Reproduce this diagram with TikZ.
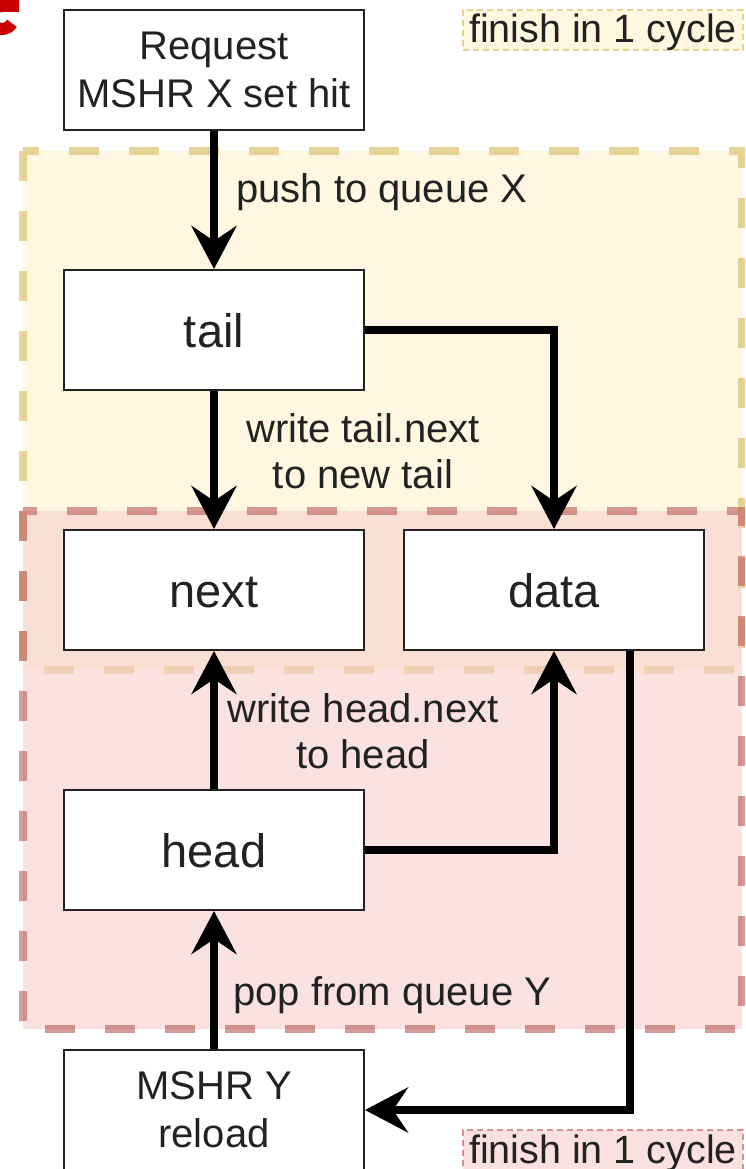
\documentclass[tikz,border=0pt]{standalone}
\usepackage{fontspec}
\setmainfont{Liberation Sans}
\usetikzlibrary{arrows.meta,calc}
\definecolor{ylwfill}{HTML}{FFF2CC}
\definecolor{ylwline}{HTML}{D6B656}
\definecolor{redfill}{HTML}{F8CECC}
\definecolor{redline}{HTML}{B85450}
\definecolor{ink}{HTML}{222222}
\definecolor{cornerred}{HTML}{C80000}
\tikzset{
  stage/.style={line width=8pt, dash pattern=on 30pt off 30pt, opacity=0.58},
  unit/.style={draw=ink, line width=2pt, fill=white, minimum width=300pt,
               minimum height=120pt, inner sep=0pt, text=ink, align=center},
  small/.style={font=\fontsize{40}{48}\selectfont},
  big/.style={font=\fontsize{47}{54}\selectfont, text height=34pt, text depth=0pt},
  lbl/.style={text=ink, inner sep=0pt, align=center, font=\fontsize{40}{46}\selectfont},
  flow/.style={line width=8pt, -{Stealth[length=43pt,width=45pt,inset=15pt]}},
  note/.style={line width=1.5pt, dash pattern=on 6pt off 4pt, minimum width=280pt,
               minimum height=40pt, inner sep=0pt, text=ink,
               text height=33pt, text depth=7pt,
               fill opacity=0.6, draw opacity=0.6, text opacity=1,
               font=\fontsize{39.5}{46}\selectfont}
}
\begin{document}
\begin{tikzpicture}[x=1pt,y=-1pt]
\clip (0,0) rectangle (745,1169);
\fill[white] (0,0) rectangle (745,1169);

% pipeline stages
\draw[stage, draw=ylwline, fill=ylwfill] (23,151) rectangle (742,670);
\draw[stage, draw=redline, fill=redfill] (23,511) rectangle (742,1029);

% red mark in the corner
\draw[cornerred, line width=12pt] (19,6) -- (2,6)
  arc[start angle=270, end angle=30, radius=11.5];

% cycle notes
\node[note, draw=ylwline, fill=ylwfill] (n1) at (603,30)   {finish in 1 cycle};
\node[note, draw=redline, fill=redfill] (n2) at (603,1150) {finish in 1 cycle};

% boxes
\node[unit, small] (req)  at (214,70)   {Request\\MSHR X set hit};
\node[unit, big]   (tail) at (214,330)  {tail};
\node[unit, big]   (next) at (214,590)  {next};
\node[unit, big]   (data) at (554,590)  {data};
\node[unit, big]   (head) at (214,850)  {head};
\node[unit, small] (my)   at (214,1110) {MSHR Y\\reload};

% connectors
\draw[flow] (req.south) -- (tail.north);
\draw[flow] (tail.south) -- (next.north);
\draw[flow] (tail.east) -| (data.north);
\draw[flow] (head.north) -- (next.south);
\draw[flow] (head.east) -| (data.south);
\draw[flow] (my.north) -- (head.south);
\coordinate (dout) at ([xshift=76pt]data.south);
\draw[flow] (dout) |- (my.east);

% connector labels
\node[lbl, anchor=west] (l1) at (236,192.5) {push to queue X};
\node[lbl] (l2) at (363,451) {write tail.next\\to new tail};
\node[lbl] (l3) at (363,731) {write head.next\\to head};
\node[lbl, anchor=west] (l4) at (233,995) {pop from queue Y};
\end{tikzpicture}
\end{document}
